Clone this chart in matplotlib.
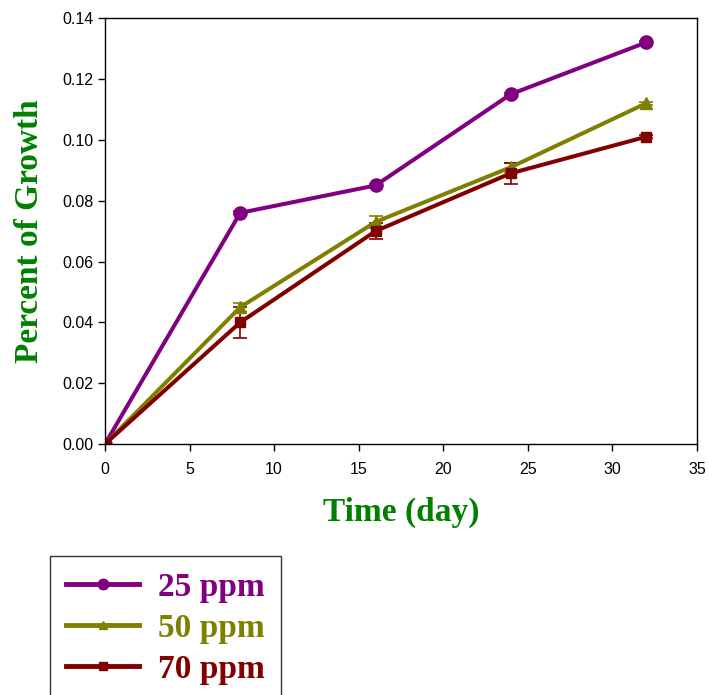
import matplotlib
matplotlib.use("Agg")
import matplotlib.pyplot as plt
from matplotlib.lines import Line2D

days = [0, 8, 16, 24, 32]
labels = ["25 ppm", "50 ppm", "70 ppm"]
g25 = [0.0, 0.076, 0.085, 0.115, 0.132]
g50 = [0.0, 0.045, 0.073, 0.091, 0.112]
g70 = [0.0, 0.040, 0.070, 0.089, 0.101]
e25 = [0.0, 0.0005, 0.0005, 0.0005, 0.0005]
e50 = [0.0, 0.0015, 0.002, 0.0015, 0.0005]
e70 = [0.0, 0.005, 0.0025, 0.0035, 0.0005]
xticks = [0, 5, 10, 15, 20, 25, 30, 35]
yticks = [0.00, 0.02, 0.04, 0.06, 0.08, 0.10, 0.12, 0.14]

colors = ["#800080", "#808000", "#800000"]
markers = ["o", "^", "s"]
msizes = [9.5, 8, 7.5]

fig = plt.figure(figsize=(7.09, 6.95), dpi=100)
ax = fig.add_axes([0.148, 0.361, 0.835, 0.613])

series = [g25, g50, g70]
errs = [e25, e50, e70]
for y, e, c, m, ms, lab in zip(series, errs, colors, markers, msizes, labels):
    ax.errorbar(days, y, yerr=e, color=c, marker=m, markersize=ms, lw=2.9,
                capsize=5, elinewidth=1.2, capthick=1.2, label=lab)

ax.set_xlim(0, 35)
ax.set_ylim(0, 0.14)
ax.set_xticks(xticks)
ax.set_yticks(yticks)
ax.set_yticklabels([f"{v:.2f}" for v in yticks])
ax.tick_params(direction="out", length=5, width=1, labelsize=11.5)
ax.tick_params(axis="x", pad=8)
for lab in ax.get_xticklabels() + ax.get_yticklabels():
    lab.set_family("Liberation Sans")
for s in ax.spines.values():
    s.set_linewidth(1)

ax.set_xlabel("Time (day)", family="Liberation Serif", fontweight="bold",
              fontsize=24, color="#008000", labelpad=14)
ax.set_ylabel("Percent of Growth", family="Liberation Serif", fontweight="bold",
              fontsize=24, color="#008000", labelpad=12)

handles = [Line2D([], [], color=c, marker=m, markersize=ms * 0.8, lw=3.5)
           for c, m, ms in zip(colors, markers, msizes)]
leg = fig.legend(handles, labels, loc="upper left",
                 bbox_to_anchor=(50 / 709, 1 - 556 / 695),
                 prop={"family": "Liberation Serif", "weight": "bold", "size": 24},
                 frameon=True, fancybox=False, edgecolor="black",
                 handlelength=2.2, handletextpad=0.55, labelspacing=0.3,
                 borderpad=0.48, borderaxespad=0)
leg.get_frame().set_linewidth(1)
for t, c in zip(leg.get_texts(), colors):
    t.set_color(c)

fig.savefig("out.png", dpi=100)
